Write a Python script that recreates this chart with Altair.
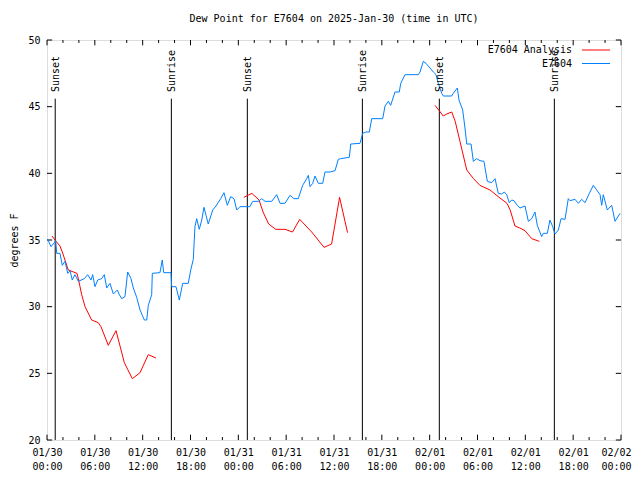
import altair as alt
import pandas as pd

# ---------------- data (hours after 2025-01-30 00:00 UTC, dew point in deg F) --------------
obs_hours = [0.0, 0.09, 0.5, 0.92, 1.09, 1.22, 1.63, 1.92, 2.26, 2.6, 2.89, 3.17, 3.51, 3.93,
             4.68, 5.1, 5.52, 5.73, 6.02, 6.36, 6.86, 7.19, 7.49, 7.9, 8.32, 8.82, 9.03, 9.37,
             9.78, 10.12, 10.54, 10.83, 11.25, 11.67, 12.21, 12.51, 12.71, 13.13, 13.21, 14.17,
             14.46, 14.64, 15.55, 15.64, 16.18, 16.6, 17.02, 17.72, 18.03, 18.35, 18.56, 18.78,
             19.1, 19.41, 19.69, 20.23, 20.79, 21.2, 21.79, 22.2, 22.62, 23.04, 23.46, 23.8,
             24.21, 25.46, 25.8, 26.5, 26.93, 27.35, 28.19, 28.81, 29.23, 29.85, 30.48, 30.98,
             31.52, 32.07, 32.58, 32.78, 32.99, 33.33, 33.62, 34.03, 34.58, 34.87, 35.5, 36.13,
             36.54, 36.84, 37.92, 38.1, 39.26, 39.6, 40.01, 40.43, 40.73, 42.11, 42.4, 42.81,
             43.11, 43.65, 44.19, 44.37, 44.91, 46.58, 46.79, 47.2, 47.54, 48.04, 48.46, 48.8,
             49.08, 49.51, 49.71, 50.76, 50.96, 51.47, 51.68, 52.14, 52.43, 52.65, 53.19, 53.48,
             53.9, 54.31, 54.81, 55.23, 55.78, 56.2, 56.61, 57.04, 57.36, 57.66, 57.99, 58.29,
             58.58, 58.99, 59.33, 59.96, 60.38, 60.8, 61.21, 61.5, 62.05, 62.25, 62.76, 63.09,
             63.43, 63.72, 64.14, 64.48, 64.98, 65.39, 65.6, 66.23, 66.65, 67.07, 67.49, 68.03,
             68.53, 68.95, 69.37, 69.58, 69.78, 70.28, 70.83, 71.25, 71.88]
obs_vals = [35.0, 35.05, 34.5, 34.8, 34.95, 34.0, 34.0, 33.1, 33.4, 32.5, 32.7, 32.0, 32.4, 31.9,
            32.1, 32.4, 32.0, 32.4, 31.5, 32.0, 32.1, 32.4, 31.4, 31.75, 30.95, 31.25, 30.95, 30.6,
            30.75, 32.6, 32.1, 31.4, 30.7, 29.75, 29.0, 29.0, 30.1, 30.9, 32.5, 32.55,
            33.5, 32.55, 32.55, 31.5, 31.5, 30.5, 31.75, 31.75, 32.75, 33.55, 36.0, 36.6,
            35.8, 36.5, 37.45, 36.2, 37.25, 37.55, 38.1, 38.55, 37.6, 38.25, 38.1, 37.25,
            37.5, 37.5, 37.9, 37.9, 38.1, 37.9, 37.9, 38.4, 37.75, 37.75, 38.35, 38.1,
            38.1, 39.1, 39.6, 39.85, 39.0, 39.25, 39.8, 39.25, 39.25, 40.1, 40.1, 40.2,
            41.05, 41.1, 41.2, 42.2, 42.25, 43.0, 43.1, 43.1, 44.1, 44.1, 45.05, 45.4,
            45.1, 46.1, 46.1, 46.75, 47.4, 47.4, 47.6, 48.4, 48.25, 47.9, 47.6, 47.4,
            46.75, 46.0, 45.8, 45.8, 46.0, 46.4, 45.5, 44.75, 43.4, 42.2, 42.2, 40.9,
            41.1, 40.95, 40.9, 39.4, 39.3, 39.6, 38.5, 38.45, 38.6, 38.4, 37.8, 38.0,
            37.95, 37.6, 37.4, 37.55, 36.4, 36.6, 37.1, 36.1, 35.25, 35.5, 35.5, 36.5,
            36.0, 35.45, 35.75, 36.6, 36.55, 38.1, 37.95, 38.05, 37.75, 38.05, 37.8, 38.5,
            39.1, 38.75, 38.4, 37.6, 38.4, 37.25, 37.6, 36.4, 37.0]

ana1_hours = [0.63, 1.0, 1.63, 1.92, 2.67, 3.76, 3.93, 4.35, 4.77, 5.6, 6.43, 6.77, 7.69, 8.66,
              9.7, 10.7, 11.67, 12.7, 13.67]
ana1_vals = [35.3, 35.0, 34.55, 34.1, 32.75, 32.5, 32.1, 30.9, 30.0, 29.0, 28.8, 28.5, 27.1, 28.2,
             25.8, 24.6, 25.05, 26.4, 26.15]
ana2_hours = [24.7, 25.7, 26.6, 27.1, 27.8, 28.7, 29.85, 30.8, 31.7, 33.2, 34.75, 35.7, 36.7, 37.7]
ana2_vals = [38.2, 38.5, 38.0, 37.1, 36.2, 35.8, 35.8, 35.6, 36.55, 35.6, 34.45, 34.7, 38.2, 35.55]
ana3_hours = [48.67, 49.2, 49.7, 50.14, 50.77, 51.2, 51.8, 52.65, 53.5, 54.3, 55.57, 56.6, 57.7,
              58.1, 58.7, 59.3, 59.96, 60.8, 61.75]
ana3_vals = [45.1, 44.7, 44.3, 44.45, 44.6, 43.9, 42.4, 40.25, 39.6, 39.1, 38.75, 38.25, 37.75,
             37.25, 36.05, 35.9, 35.7, 35.1, 34.9]

sun_hours = [1.03, 15.6, 25.13, 39.56, 49.21, 63.64]
sun_labels = ["Sunset", "Sunrise", "Sunset", "Sunrise", "Sunset", "Sunrise"]

x_major_hours = [0, 6, 12, 18, 24, 30, 36, 42, 48, 54, 60, 66, 72]
x_minor_hours = [2, 4, 8, 10, 14, 16, 20, 22, 26, 28, 32, 34, 38, 40, 44, 46, 50, 52, 56, 58,
                 62, 64, 68, 70]
y_ticks = [20, 25, 30, 35, 40, 45, 50]

series_names = ["E7604 Analysis", "E7604"]
series_colors = ["#ff0000", "#0080ff"]

# ---------------- helpers ----------------
T0 = pd.Timestamp("2025-01-30T00:00:00Z").value // 10**6
HOUR = 3600000


def ms(h):
    return T0 + h * HOUR


FONT = "DejaVu Sans Mono"
X0, X1 = ms(0), ms(72)
xs = alt.Scale(type="utc", domain=[X0, X1], nice=False)
ys = alt.Scale(domain=[20, 50], nice=False, zero=False)

xaxis = alt.Axis(
    values=[ms(h) for h in x_major_hours],
    labelExpr="[utcFormat(datum.value, '%m/%d'), utcFormat(datum.value, '%H:%M')]",
    labelFont=FONT, labelFontSize=10, labelColor="black", labelLineHeight=14,
    labelPadding=7, ticks=False, tickSize=0, domain=False, grid=False,
    labelBaseline="top", labelFlush=False, labelOverlap=False, title=None,
    labelOffset=alt.ExprRef(expr=f"datum.value >= {X1} ? -5 : 0"),
)
yaxis = alt.Axis(
    values=y_ticks, labelFont=FONT, labelFontSize=10, labelColor="black",
    labelPadding=7, ticks=False, tickSize=0, domain=False, grid=False,
    title="degrees F", titleFont=FONT, titleFontSize=10, titleFontWeight="normal",
    titleColor="black", titlePadding=8,
)


def X(field="t"):
    return alt.X(f"{field}:T", scale=xs, axis=xaxis)


def Y(field="v"):
    return alt.Y(f"{field}:Q", scale=ys, axis=yaxis)


color = alt.Color(
    "series:N",
    scale=alt.Scale(domain=series_names, range=series_colors),
    legend=alt.Legend(
        orient="none", legendX=543.5, legendY=4.5, title=None,
        symbolType="M-2.8,0H2.8", symbolSize=100, symbolStrokeWidth=1,
        labelAlign="right", labelOffset=alt.ExprRef(expr="-29.5"), labelFont=FONT,
        labelFontSize=10, labelColor="black", labelLimit=300, rowPadding=2.5, padding=0,
    ),
)

# ---------------- data frames ----------------
obs_df = pd.DataFrame({"t": [ms(h) for h in obs_hours], "v": obs_vals, "series": "E7604"})
ana_rows = []
for seg, (hh, vv) in enumerate([(ana1_hours, ana1_vals), (ana2_hours, ana2_vals),
                                 (ana3_hours, ana3_vals)]):
    for h, v in zip(hh, vv):
        ana_rows.append({"t": ms(h), "v": v, "series": "E7604 Analysis", "seg": seg})
ana_df = pd.DataFrame(ana_rows)

sun_df = pd.DataFrame({"t": [ms(h) for h in sun_hours], "label": sun_labels,
                       "v": 45.6, "v2": 20, "vt": 46.1})

# tick marks drawn inward (gnuplot style); lengths are in data units
MAJ_Y, MIN_Y = 0.4, 0.22
vt_rows = []
for h in x_major_hours:
    vt_rows.append({"t": ms(h), "v": 20, "v2": 20 + MAJ_Y})
    vt_rows.append({"t": ms(h), "v": 50, "v2": 50 - MAJ_Y})
for h in x_minor_hours:
    vt_rows.append({"t": ms(h), "v": 20, "v2": 20 + MIN_Y})
    vt_rows.append({"t": ms(h), "v": 50, "v2": 50 - MIN_Y})
vt_df = pd.DataFrame(vt_rows)
YT_LEN = 0.65 * HOUR
ht_rows = []
for y in y_ticks:
    ht_rows.append({"t": X0, "t2": X0 + YT_LEN, "v": y})
    ht_rows.append({"t": X1 - YT_LEN, "t2": X1, "v": y})
ht_df = pd.DataFrame(ht_rows)

# ---------------- layers ----------------
vticks = alt.Chart(vt_df).mark_rule(color="black", strokeWidth=1).encode(
    x=X(), y=Y(), y2="v2:Q")
hticks = alt.Chart(ht_df).mark_rule(color="black", strokeWidth=1).encode(
    x=X(), x2="t2:T", y=Y())

sun_lines = alt.Chart(sun_df).mark_rule(color="black", strokeWidth=1).encode(
    x=X(), y=Y(), y2="v2:Q")
sun_text = alt.Chart(sun_df).mark_text(
    angle=270, align="left", baseline="middle", font=FONT, fontSize=10, color="black", dy=1
).encode(x=X(), y=Y("vt"), text="label:N")

ana_line = alt.Chart(ana_df).mark_line(strokeWidth=1).encode(
    x=X(), y=Y(), color=color, detail="seg:N")
obs_line = alt.Chart(obs_df).mark_line(strokeWidth=1).encode(
    x=X(), y=Y(), color=color)

chart = alt.layer(vticks, hticks, sun_lines, ana_line, obs_line, sun_text).properties(
    width=574, height=400,
    title=alt.TitleParams("Dew Point for E7604 on 2025-Jan-30 (time in UTC)", font=FONT,
                          fontSize=10, fontWeight="normal", color="black", offset=11,
                          anchor="middle"),
    autosize=alt.AutoSizeParams(type="none"),
    padding={"left": 39, "top": 32, "right": 11, "bottom": 32},
).configure_view(stroke="black", strokeWidth=1, fill="white").configure(background="white")

chart.save("out.html", embed_options={"renderer": "svg", "actions": False})
